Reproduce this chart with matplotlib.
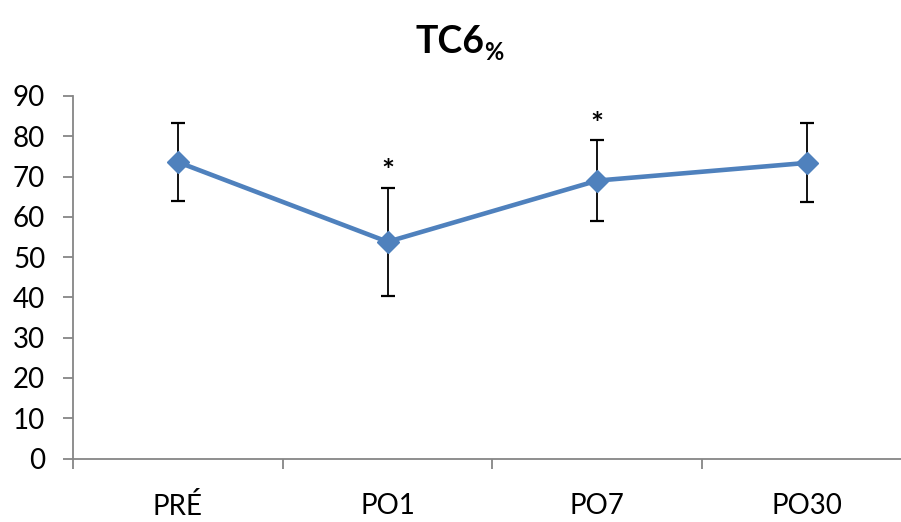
import matplotlib.pyplot as plt
import numpy as np

# time points and mean +/- sd
labels = ["PRÉ", "PO1", "PO7", "PO30"]
means = [73.6, 53.8, 69.0, 73.4]
errors = [9.6, 13.4, 10.0, 9.8]
signif = [False, True, True, False]

plt.rcParams['font.family'] = ['Lato', 'DejaVu Sans']

W, H = 901, 522
fig = plt.figure(figsize=(W / 100, H / 100), dpi=100)
# right end of the category axis runs past the canvas edge
ax = fig.add_axes([73 / W, 1 - 458.5 / H, (912 - 73) / W, (458.5 - 96) / H])

x = np.arange(len(labels))
blue = '#4F81BD'
ax.errorbar(x, means, yerr=errors, fmt='none', ecolor='black', elinewidth=1.3,
            capsize=5, capthick=1.6, zorder=2)
ax.plot(x, means, color=blue, lw=3.3, marker='D', markersize=11,
        markerfacecolor=blue, markeredgecolor=blue, zorder=3)

for xi, m, e, s in zip(x, means, errors, signif):
    if s:
        ax.annotate('*', (xi, m + e), xytext=(0, 1), textcoords='offset points',
                    ha='center', va='bottom', fontsize=22, fontweight='bold')

ax.set_xlim(-0.5, len(labels) - 0.5)
ax.set_ylim(0, 90)
ax.set_yticks(range(0, 91, 10))

# ticks on category boundaries, labels at the centers
ax.set_xticks(np.arange(-0.5, len(labels), 1.0))
ax.set_xticklabels([])
ax.set_xticks(x, minor=True)
ax.set_xticklabels(labels, minor=True)

grey = '#868686'
for side in ('top', 'right'):
    ax.spines[side].set_visible(False)
for side in ('left', 'bottom'):
    ax.spines[side].set_color(grey)
    ax.spines[side].set_linewidth(1.3)

ax.tick_params(axis='y', which='major', direction='out', length=7, width=1.3,
               color=grey, pad=13, labelsize=20)
ax.tick_params(axis='x', which='major', direction='out', length=7, width=1.3,
               color=grey)
ax.tick_params(axis='x', which='minor', length=0, pad=25, labelsize=20)

# title with subscript percent sign
fig.text(484 / W, 1 - 53 / H, 'TC6', ha='right', va='baseline',
         fontsize=27, fontweight='bold')
fig.text(484 / W, 1 - 60 / H, '%', ha='left', va='baseline',
         fontsize=17, fontweight='bold')

fig.savefig('out.png', dpi=100)
